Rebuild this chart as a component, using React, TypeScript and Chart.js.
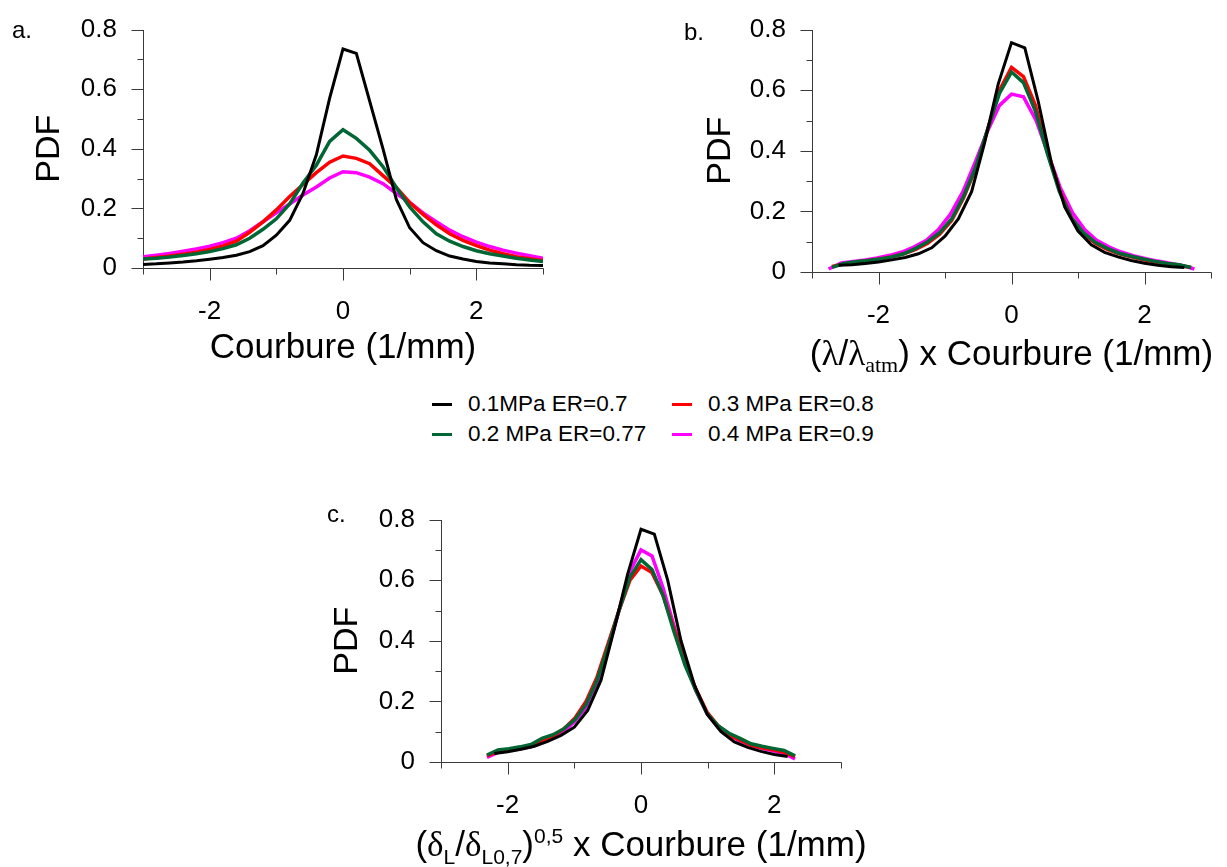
import React, { useEffect, useRef } from 'react';
import { Chart, registerables } from 'chart.js';

Chart.register(...registerables);

const SANS = '"Liberation Sans", Arial, Helvetica, sans-serif';
const SERIF = '"Liberation Serif", "Times New Roman", serif';
const AXIS_COLOR = '#3a3a3a';
const TITLE_SIZE = 35;
const SUB_SIZE = 21;

// ---- legend / series ----
const SERIES_NAMES = ['0.1MPa ER=0.7', '0.2 MPa ER=0.77', '0.3 MPa ER=0.8', '0.4 MPa ER=0.9'];
const SERIES_COLORS = ['#000000', '#006633', '#ff0000', '#ff00ff'];
const SERIES_WIDTHS = [3, 3.5, 3.5, 3.5];

// ---- ticks ----
const X_TICKS = [-3, -2, -1, 0, 1, 2, 3];
const Y_TICKS = [0, 0.1, 0.2, 0.3, 0.4, 0.5, 0.6, 0.7, 0.8];

// ---- panel a : Courbure ----
const A_X = [-3, -2.8, -2.6, -2.4, -2.2, -2, -1.8, -1.6, -1.4, -1.2, -1, -0.8, -0.6, -0.4, -0.2, 0, 0.2, 0.4, 0.6, 0.8, 1, 1.2, 1.4, 1.6, 1.8, 2, 2.2, 2.4, 2.6, 2.8, 3];
const A_BLACK = [0.012, 0.014, 0.017, 0.02, 0.024, 0.029, 0.035, 0.043, 0.055, 0.075, 0.11, 0.16, 0.25, 0.38, 0.57, 0.735, 0.72, 0.56, 0.4, 0.23, 0.135, 0.085, 0.058, 0.04, 0.03, 0.022, 0.017, 0.014, 0.011, 0.009, 0.008];
const A_GREEN = [0.03, 0.033, 0.037, 0.042, 0.048, 0.055, 0.065, 0.078, 0.1, 0.13, 0.165, 0.215, 0.285, 0.345, 0.425, 0.464, 0.435, 0.395, 0.34, 0.27, 0.205, 0.155, 0.115, 0.09, 0.072, 0.058, 0.048, 0.04, 0.033, 0.027, 0.022];
const A_RED = [0.03, 0.035, 0.04, 0.046, 0.053, 0.062, 0.074, 0.09, 0.12, 0.155, 0.195, 0.24, 0.28, 0.32, 0.355, 0.376, 0.368, 0.35, 0.31, 0.27, 0.22, 0.18, 0.145, 0.115, 0.093, 0.075, 0.06, 0.048, 0.038, 0.031, 0.025];
const A_MAGENTA = [0.038, 0.043, 0.049, 0.056, 0.064, 0.073, 0.085, 0.1, 0.125, 0.155, 0.185, 0.215, 0.245, 0.272, 0.302, 0.323, 0.32, 0.305, 0.283, 0.25, 0.22, 0.185, 0.155, 0.127, 0.105, 0.087, 0.072, 0.06, 0.05, 0.041, 0.033];

// ---- panel b : (lambda/lambda_atm) x Courbure ----
const B_BLACK_X = [-2.6, -2.4, -2.2, -2, -1.8, -1.6, -1.4, -1.2, -1, -0.8, -0.6, -0.4, -0.2, 0, 0.2, 0.4, 0.6, 0.8, 1, 1.2, 1.4, 1.6, 1.8, 2, 2.2, 2.4, 2.6];
const B_BLACK_Y = [0.022, 0.024, 0.028, 0.033, 0.04, 0.048, 0.06, 0.08, 0.118, 0.175, 0.265, 0.43, 0.62, 0.757, 0.74, 0.565, 0.36, 0.215, 0.135, 0.09, 0.065, 0.05, 0.038, 0.029, 0.022, 0.017, 0.015];
const B_RG_X = [-2.7, -2.52, -2.34, -2.16, -1.98, -1.8, -1.62, -1.44, -1.26, -1.08, -0.9, -0.72, -0.54, -0.36, -0.18, 0, 0.18, 0.36, 0.54, 0.72, 0.9, 1.08, 1.26, 1.44, 1.62, 1.8, 1.98, 2.16, 2.34, 2.52, 2.7];
const B_RED_Y = [0.018, 0.026, 0.032, 0.037, 0.043, 0.05, 0.06, 0.075, 0.095, 0.125, 0.17, 0.245, 0.34, 0.47, 0.6, 0.675, 0.645, 0.55, 0.4, 0.27, 0.18, 0.125, 0.095, 0.075, 0.06, 0.05, 0.04, 0.033, 0.027, 0.022, 0.015];
const B_GREEN_Y = [0.015, 0.028, 0.034, 0.038, 0.043, 0.05, 0.06, 0.078, 0.1, 0.13, 0.175, 0.25, 0.345, 0.47, 0.59, 0.66, 0.625, 0.53, 0.39, 0.265, 0.18, 0.13, 0.098, 0.078, 0.062, 0.052, 0.043, 0.035, 0.028, 0.024, 0.015];
const B_MAG_X = [-2.75, -2.56, -2.38, -2.2, -2.02, -1.83, -1.65, -1.47, -1.28, -1.1, -0.92, -0.73, -0.55, -0.37, -0.18, 0, 0.18, 0.37, 0.55, 0.73, 0.92, 1.1, 1.28, 1.47, 1.65, 1.83, 2.02, 2.2, 2.38, 2.56, 2.75];
const B_MAG_Y = [0.01, 0.03, 0.035, 0.04, 0.046, 0.055, 0.066, 0.082, 0.105, 0.14, 0.19, 0.265, 0.36, 0.46, 0.55, 0.587, 0.578, 0.5, 0.39, 0.28, 0.195, 0.14, 0.105, 0.082, 0.066, 0.054, 0.044, 0.036, 0.029, 0.022, 0.01];

// ---- panel c : (deltaL/deltaL0.7)^0.5 x Courbure ----
const C_BLACK_X = [-2.2, -2, -1.8, -1.6, -1.4, -1.2, -1, -0.8, -0.6, -0.4, -0.2, 0, 0.2, 0.4, 0.6, 0.8, 1, 1.2, 1.4, 1.6, 1.8, 2, 2.2];
const C_BLACK_Y = [0.028, 0.034, 0.042, 0.052, 0.068, 0.088, 0.115, 0.17, 0.27, 0.44, 0.62, 0.768, 0.752, 0.6, 0.4, 0.255, 0.155, 0.1, 0.066, 0.048, 0.035, 0.025, 0.018];
const C_X = [-2.31, -2.145, -1.98, -1.815, -1.65, -1.485, -1.32, -1.155, -0.99, -0.825, -0.66, -0.495, -0.33, -0.165, 0, 0.165, 0.33, 0.495, 0.66, 0.825, 0.99, 1.155, 1.32, 1.485, 1.65, 1.815, 1.98, 2.145, 2.31];
const C_GREEN_Y = [0.023, 0.04, 0.044, 0.05, 0.058, 0.078, 0.09, 0.11, 0.14, 0.19, 0.27, 0.38, 0.5, 0.61, 0.668, 0.635, 0.55, 0.43, 0.32, 0.235, 0.16, 0.12, 0.095, 0.078, 0.06, 0.052, 0.045, 0.038, 0.02];
const C_RED_Y = [0.02, 0.035, 0.04, 0.046, 0.054, 0.07, 0.085, 0.11, 0.145, 0.2, 0.28, 0.39, 0.5, 0.6, 0.647, 0.625, 0.55, 0.44, 0.33, 0.24, 0.165, 0.12, 0.09, 0.072, 0.056, 0.047, 0.04, 0.032, 0.018];
const C_MAG_Y = [0.015, 0.032, 0.038, 0.044, 0.05, 0.064, 0.08, 0.1, 0.135, 0.18, 0.26, 0.37, 0.5, 0.63, 0.7, 0.68, 0.575, 0.45, 0.33, 0.235, 0.16, 0.115, 0.088, 0.07, 0.055, 0.045, 0.037, 0.028, 0.01];

type Seg = { t: string; size: number; serif?: boolean; dy?: number };

type PanelCfg = {
  label: string;
  left: number; top: number; w: number; h: number;
  area: { left: number; top: number; right: number; bottom: number };
  labelX: number; labelY: number;
  yTitleX: number;
  xTitle: Seg[];
  xTitleDy: number;
  series: { xs: number[]; ys: number[] }[]; // order: black, green, red, magenta
};

const PANELS: PanelCfg[] = [
  {
    label: 'a.', left: 0, top: 0, w: 560, h: 380,
    area: { left: 143, top: 19, right: 543, bottom: 268 },
    labelX: 12, labelY: 38, yTitleX: 50,
    xTitle: [{ t: 'Courbure (1/mm)', size: TITLE_SIZE }],
    xTitleDy: 90,
    series: [
      { xs: A_X, ys: A_BLACK },
      { xs: A_X, ys: A_GREEN },
      { xs: A_X, ys: A_RED },
      { xs: A_X, ys: A_MAGENTA },
    ],
  },
  {
    label: 'b.', left: 640, top: 0, w: 587, h: 380,
    area: { left: 172, top: 23, right: 573, bottom: 272 },
    labelX: 44, labelY: 40, yTitleX: 81,
    xTitle: [
      { t: '(', size: TITLE_SIZE },
      { t: 'λ', size: TITLE_SIZE, serif: true },
      { t: '/', size: TITLE_SIZE },
      { t: 'λ', size: TITLE_SIZE, serif: true },
      { t: 'atm', size: 22, serif: true, dy: 7 },
      { t: ') x Courbure (1/mm)', size: TITLE_SIZE },
    ],
    xTitleDy: 93,
    series: [
      { xs: B_BLACK_X, ys: B_BLACK_Y },
      { xs: B_RG_X, ys: B_GREEN_Y },
      { xs: B_RG_X, ys: B_RED_Y },
      { xs: B_MAG_X, ys: B_MAG_Y },
    ],
  },
  {
    label: 'c.', left: 300, top: 490, w: 580, h: 377,
    area: { left: 141, top: 20, right: 541, bottom: 272 },
    labelX: 27, labelY: 32, yTitleX: 48,
    xTitle: [
      { t: '(', size: TITLE_SIZE },
      { t: 'δ', size: TITLE_SIZE, serif: true },
      { t: 'L', size: SUB_SIZE, dy: 8 },
      { t: '/', size: TITLE_SIZE },
      { t: 'δ', size: TITLE_SIZE, serif: true },
      { t: 'L0,7', size: SUB_SIZE, dy: 8 },
      { t: ')', size: TITLE_SIZE },
      { t: '0,5', size: SUB_SIZE, dy: -13 },
      { t: ' x Courbure (1/mm)', size: TITLE_SIZE },
    ],
    xTitleDy: 94,
    series: [
      { xs: C_BLACK_X, ys: C_BLACK_Y },
      { xs: C_X, ys: C_GREEN_Y },
      { xs: C_X, ys: C_RED_Y },
      { xs: C_X, ys: C_MAG_Y },
    ],
  },
];

const segFont = (s: Seg) => `${s.size}px ${s.serif ? SERIF : SANS}`;

function makeFigPlugin(cfg: PanelCfg) {
  return {
    id: 'fig_' + cfg.label,
    beforeDatasetsDraw(chart: any) {
      const { ctx, chartArea, scales } = chart;
      const xs = scales.x;
      const ys = scales.y;
      const L = Math.round(chartArea.left) + 0.5;
      const B = Math.round(chartArea.bottom) + 0.5;
      const T = Math.round(chartArea.top);
      const R = Math.round(chartArea.right) + 0.5;
      ctx.save();
      ctx.strokeStyle = AXIS_COLOR;
      ctx.lineWidth = 1;
      ctx.beginPath();
      ctx.moveTo(L, T);
      ctx.lineTo(L, B);
      ctx.moveTo(L, B);
      ctx.lineTo(R, B);
      X_TICKS.forEach((v) => {
        const p = Math.round(xs.getPixelForValue(v)) + 0.5;
        const len = v % 2 === 0 ? 12 : 6;
        ctx.moveTo(p, B);
        ctx.lineTo(p, B + len);
      });
      Y_TICKS.forEach((v) => {
        const p = Math.round(ys.getPixelForValue(v)) + 0.5;
        const len = Math.round(v * 10) % 2 === 0 ? 12 : 6;
        ctx.moveTo(L, p);
        ctx.lineTo(L - len, p);
      });
      ctx.stroke();
      ctx.restore();
    },
    afterDraw(chart: any) {
      const { ctx, chartArea } = chart;
      ctx.save();
      ctx.fillStyle = '#000';
      ctx.textAlign = 'left';
      ctx.textBaseline = 'alphabetic';
      ctx.font = `24px ${SANS}`;
      ctx.fillText(cfg.label, cfg.labelX, cfg.labelY);

      ctx.save();
      ctx.translate(cfg.yTitleX, (chartArea.top + chartArea.bottom) / 2);
      ctx.rotate(-Math.PI / 2);
      ctx.textAlign = 'center';
      ctx.textBaseline = 'middle';
      ctx.font = `34px ${SANS}`;
      ctx.fillText('PDF', 0, 0);
      ctx.restore();

      let total = 0;
      cfg.xTitle.forEach((s) => {
        ctx.font = segFont(s);
        total += ctx.measureText(s.t).width;
      });
      let x = (chartArea.left + chartArea.right) / 2 - total / 2;
      const base = chartArea.bottom + cfg.xTitleDy;
      ctx.textAlign = 'left';
      ctx.textBaseline = 'alphabetic';
      cfg.xTitle.forEach((s) => {
        ctx.font = segFont(s);
        ctx.fillText(s.t, x, base + (s.dy || 0));
        x += ctx.measureText(s.t).width;
      });
      ctx.restore();
    },
  };
}

function Panel({ cfg }: { cfg: PanelCfg }) {
  const ref = useRef<HTMLCanvasElement>(null);
  useEffect(() => {
    const canvas = ref.current!;
    const datasets = cfg.series.map((s, i) => ({
      label: SERIES_NAMES[i],
      data: s.xs.map((x, j) => ({ x, y: s.ys[j] })),
      borderColor: SERIES_COLORS[i],
      backgroundColor: SERIES_COLORS[i],
      borderWidth: SERIES_WIDTHS[i],
      pointRadius: 0,
      showLine: true,
      tension: 0,
      fill: false,
    }));
    const tickFont = { family: SANS, size: 26 };
    const chart = new Chart(canvas, {
      type: 'scatter',
      data: { datasets },
      options: {
        responsive: false,
        animation: false,
        devicePixelRatio: 1,
        events: [],
        layout: {
          padding: { left: 0, top: cfg.area.top, right: cfg.w - cfg.area.right, bottom: 0 },
        },
        plugins: { legend: { display: false }, tooltip: { enabled: false } },
        scales: {
          x: {
            type: 'linear',
            min: -3,
            max: 3,
            afterBuildTicks: (s: any) => {
              s.ticks = X_TICKS.map((v) => ({ value: v }));
            },
            afterFit: (s: any) => {
              s.height = cfg.h - cfg.area.bottom;
            },
            ticks: {
              autoSkip: false,
              maxRotation: 0,
              padding: 16,
              color: '#000',
              font: tickFont,
              callback: (v: any) => (v % 2 === 0 && Math.abs(v) < 3 ? String(v) : ''),
            },
            grid: { display: false, drawTicks: true, tickLength: 12 },
            border: { display: false },
          },
          y: {
            type: 'linear',
            min: 0,
            max: 0.8,
            afterBuildTicks: (s: any) => {
              s.ticks = Y_TICKS.map((v) => ({ value: v }));
            },
            afterFit: (s: any) => {
              s.width = cfg.area.left;
            },
            ticks: {
              autoSkip: false,
              padding: 14,
              color: '#000',
              font: tickFont,
              callback: (v: any) => {
                const k = Math.round(v * 10);
                if (k % 2 !== 0) return '';
                return k === 0 ? '0' : (k / 10).toFixed(1);
              },
            },
            grid: { display: false, drawTicks: true, tickLength: 12 },
            border: { display: false },
          },
        },
      } as any,
      plugins: [makeFigPlugin(cfg)],
    });
    return () => chart.destroy();
  }, [cfg]);
  return (
    <canvas
      ref={ref}
      width={cfg.w}
      height={cfg.h}
      style={{ position: 'absolute', left: cfg.left, top: cfg.top, width: cfg.w, height: cfg.h }}
    />
  );
}

// legend layout: column-major, 2 rows
const LEGEND_ORDER = [0, 2, 1, 3];

function Legend() {
  return (
    <>
      {LEGEND_ORDER.map((idx, k) => {
        const col = k % 2;
        const row = Math.floor(k / 2);
        return (
          <div
            key={idx}
            style={{
              position: 'absolute',
              left: col === 0 ? 432 : 672,
              top: (row === 0 ? 404 : 434) - 15,
              height: 30,
              display: 'flex',
              alignItems: 'center',
              whiteSpace: 'nowrap',
            }}
          >
            <span style={{ display: 'inline-block', width: 20, height: 3, background: SERIES_COLORS[idx], marginRight: 16 }} />
            <span style={{ font: `22.5px ${SANS}`, color: '#000' }}>{SERIES_NAMES[idx]}</span>
          </div>
        );
      })}
    </>
  );
}

export default function App() {
  return (
    <div
      style={{
        position: 'absolute',
        left: 0,
        top: 0,
        width: 1227,
        height: 867,
        overflow: 'hidden',
        background: '#fff',
      }}
    >
      {PANELS.map((p) => (
        <Panel key={p.label} cfg={p} />
      ))}
      <Legend />
    </div>
  );
}
